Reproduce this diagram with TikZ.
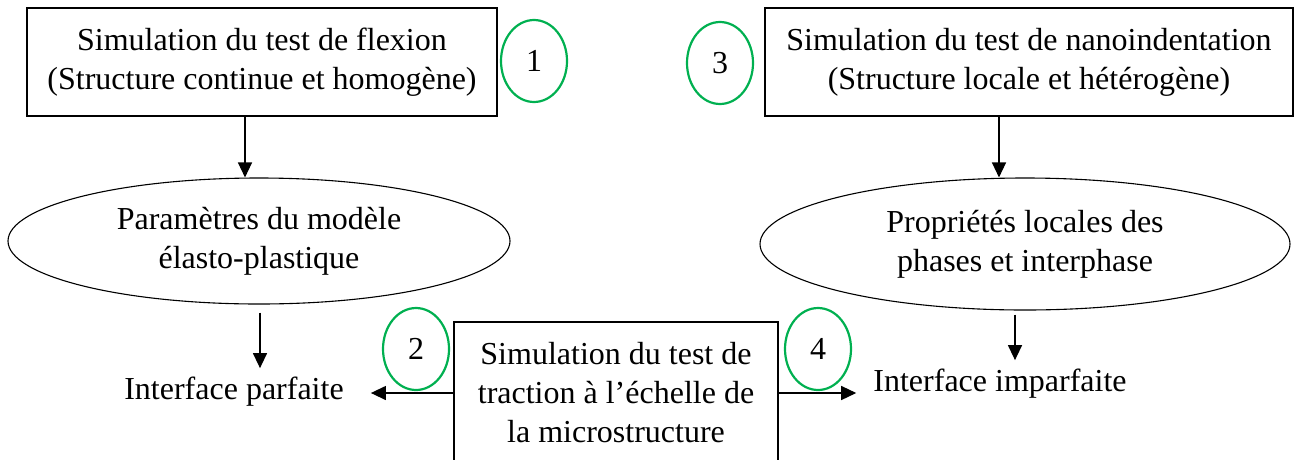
\documentclass[tikz,border=0pt]{standalone}
\usepackage{fontspec}
\setmainfont{Liberation Serif}
\usetikzlibrary{shapes.geometric,arrows.meta}
\definecolor{grn}{RGB}{0,176,80}
\begin{document}
\begin{tikzpicture}[x=1pt,y=-1pt,
  every node/.style={font=\fontsize{32}{39}\selectfont, align=center},
  boxnode/.style={draw, line width=1.3pt, inner sep=0pt},
  ell/.style={draw, ellipse, line width=1.1pt, inner sep=0pt},
  num/.style={draw=grn, ellipse, line width=2.2pt, minimum width=66pt, minimum height=82pt, inner sep=0pt},
  plain/.style={inner sep=0pt},
  arr/.style={line width=1.3pt, -{Triangle[length=15pt,width=14pt]}}]
\useasboundingbox (0,0) rectangle (1302,459);

\node[boxnode, minimum width=470pt, minimum height=108pt] (b1) at (262,62) {Simulation du test de flexion\\(Structure continue et homogène)};
\node[num] (n1) at (534,61) {1};

\node[boxnode, minimum width=528pt, minimum height=108pt] (b3) at (1029,62) {Simulation du test de nanoindentation\\(Structure locale et hétérogène)};
\node[num] (n3) at (720,63) {3};

\node[ell, minimum width=502pt, minimum height=126pt] (e1) at (259,241) {Paramètres du modèle\\élasto-plastique};
\node[ell, minimum width=530pt, minimum height=132pt] (e2) at (1025,244) {Propriétés locales des\\phases et interphase};

\node[plain] (ip) at (234,392) {Interface parfaite};
\node[plain] (iip) at (1000,384) {Interface imparfaite};

\node[boxnode, minimum width=324pt, minimum height=142pt] (b2) at (616,393) {Simulation du test de\\traction à l’échelle de\\la microstructure};
\node[num] (n2) at (416,349) {2};
\node[num] (n4) at (818,349) {4};

\draw[arr] ([xshift=-17pt]b1.south) -- ([xshift=-17pt]b1.south |- e1.north);
\draw[arr] ([xshift=-30pt]b3.south) -- ([xshift=-30pt]b3.south |- e2.north);
\draw[arr] ([xshift=1pt,yshift=-8pt]e1.south) -- ([xshift=1pt,yshift=9pt]e1.south |- ip.north);
\draw[arr] ([xshift=-10pt,yshift=-4pt]e2.south) -- ([xshift=-10pt,yshift=9pt]e2.south |- iip.north);
\draw[arr] (b2.west) -- ([xshift=27pt]b2.west -| ip.east);
\draw[arr] (b2.east) -- ([xshift=-17pt]b2.east -| iip.west);
\end{tikzpicture}
\end{document}
